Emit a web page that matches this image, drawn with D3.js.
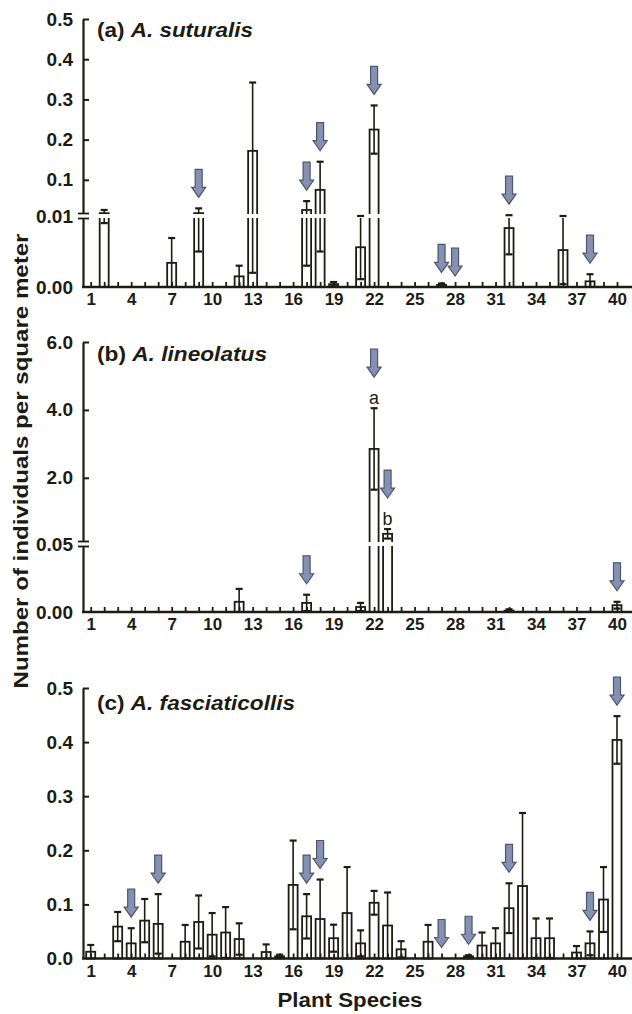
<!DOCTYPE html>
<html>
<head>
<meta charset="utf-8">
<script src="https://cdn.jsdelivr.net/npm/d3@7"></script>
<style>
  body { margin: 0; background: #fff; }
  svg { display: block; font-family: Arial, "Liberation Sans", sans-serif; }
</style>
</head>
<body>
<div id="chart-area"></div>
<script>
// Data
// ****
const species = [1,2,3,4,5,6,7,8,9,10,11,12,13,14,15,16,17,18,19,20,21,22,23,24,25,26,27,28,29,30,31,32,33,34,35,36,37,38,39,40]
const speciesLabels = [1,4,7,10,13,16,19,22,25,28,31,34,37,40]

// (a) A. suturalis
const meanA = [0,0.017,0,0,0,0,0.0034,0,0.017,0,0,0.0015,0.172,0,0,0,0.025,0.075,0.0004,0,0.0056,0.225,0,0,0,0,0.0003,0,0,0,0,0.0083,0,0,0,0.0052,0,0.0008,0,0]
const seA   = [0,0.008,0,0,0,0,0.0035,0,0.012,0,0,0.0015,0.17,0,0,0,0.022,0.07,0.0003,0,0.0045,0.06,0,0,0,0,0.0002,0,0,0,0,0.0037,0,0,0,0.0048,0,0.001,0,0]
const arrowsA = [9,17,18,22,27,28,32,38]
const ticksA = [0,0.01,0.1,0.2,0.3,0.4,0.5]
const tickLabelsA = ["0.00","0.01","0.1","0.2","0.3","0.4","0.5"]

// (b) A. lineolatus
const meanB = [0,0,0,0,0,0,0,0,0,0,0,0.0075,0,0,0,0,0.0067,0,0,0,0.0037,2.85,0.35,0,0,0,0,0,0,0,0,0.001,0,0,0,0,0,0,0,0.005]
const seB   = [0,0,0,0,0,0,0,0,0,0,0,0.0095,0,0,0,0,0.006,0,0,0,0.003,1.2,0.14,0,0,0,0,0,0,0,0,0.001,0,0,0,0,0,0,0,0.0025]
const arrowsB = [17,22,23,40]
const letterSpeciesB = [22,23]
const letterTextB = ["a","b"]
const ticksB = [0,0.05,2,4,6]
const tickLabelsB = ["0.00","0.05","2.0","4.0","6.0"]

// (c) A. fasciaticollis
const meanC = [0.0125,0,0.059,0.028,0.07,0.064,0,0.031,0.0675,0.044,0.048,0.036,0,0.012,0.004,0.136,0.078,0.073,0.0375,0.084,0.028,0.103,0.061,0.017,0,0.031,0,0,0.004,0.024,0.028,0.093,0.134,0.0375,0.0375,0,0.011,0.028,0.109,0.404]
const seC   = [0.0125,0,0.027,0.028,0.04,0.055,0,0.031,0.049,0.04,0.047,0.029,0,0.014,0.003,0.082,0.041,0.073,0.025,0.085,0.024,0.022,0.061,0.015,0,0.031,0,0,0.002,0.024,0.028,0.046,0.135,0.0365,0.0365,0,0.012,0.022,0.06,0.044]
const arrowsC = [4,6,17,18,27,29,32,38,40]
const ticksC = [0,0.1,0.2,0.3,0.4,0.5]
const tickLabelsC = ["0.0","0.1","0.2","0.3","0.4","0.5"]

// Config
// ******
const width = 632, height = 1014
const axisX = 83, rightEdge = 632
const ink = "#1c1c14"
const barW = 9, capW = 7

const svg = d3.select("#chart-area")
  .append("svg")
    .attr("width", width)
    .attr("height", height)

const x = d3.scaleLinear().domain([1, 40]).range([90.7, 617])

const panels = [
  {tag: "(a) ", name: "A. suturalis", titleY: 37, titleLen: 156,
   mean: meanA, se: seA, arrows: arrowsA, ticks: ticksA, labels: tickLabelsA,
   y: d3.scaleLinear().domain([0, 0.01, 0.5]).range([287, 216, 19]), brk: 0.01},
  {tag: "(b) ", name: "A. lineolatus", titleY: 361, titleLen: 170,
   mean: meanB, se: seB, arrows: arrowsB, ticks: ticksB, labels: tickLabelsB,
   y: d3.scaleLinear().domain([0, 0.05, 6]).range([612, 544, 342]), brk: 0.05,
   letters: letterSpeciesB, letterText: letterTextB},
  {tag: "(c) ", name: "A. fasciaticollis", titleY: 710, titleLen: 198,
   mean: meanC, se: seC, arrows: arrowsC, ticks: ticksC, labels: tickLabelsC,
   y: d3.scaleLinear().domain([0, 0.5]).range([958.5, 688]), brk: null}
]

panels.forEach(drawPanel)

// Y Label
// *******
svg.append("text")
  .attr("transform", "translate(28, 461) rotate(-90)")
  .attr("text-anchor", "middle")
  .attr("font-size", "20px")
  .attr("font-weight", "bold")
  .attr("fill", ink)
  .attr("textLength", 455)
  .attr("lengthAdjust", "spacingAndGlyphs")
  .text("Number of individuals per square meter")

// X Label
// *******
svg.append("text")
  .attr("x", 350)
  .attr("y", 1007)
  .attr("text-anchor", "middle")
  .attr("font-size", "20px")
  .attr("font-weight", "bold")
  .attr("fill", ink)
  .attr("textLength", 145)
  .attr("lengthAdjust", "spacingAndGlyphs")
  .text("Plant Species")

// Draw One Panel
// **************
function drawPanel(p) {
  const y = p.y
  const base = y(0)
  const g = svg.append("g")
  const data = species.map((s, i) => ({s: s, m: p.mean[i], e: p.se[i]}))
  const bars = data.filter(d => d.m > 0)

  // Bars
  g.selectAll("rect.bar").data(bars).enter()
    .append("rect")
      .attr("class", "bar")
      .attr("x", d => x(d.s) - barW / 2)
      .attr("y", d => y(d.m))
      .attr("width", barW)
      .attr("height", d => base - y(d.m))
      .attr("fill", "#fff")
      .attr("stroke", ink)
      .attr("stroke-width", 1.8)

  // Error whiskers (lower part runs inside the bar)
  g.selectAll("line.whisker").data(bars).enter()
    .append("line")
      .attr("x1", d => x(d.s)).attr("x2", d => x(d.s))
      .attr("y1", d => y(Math.max(d.m - d.e, 0)))
      .attr("y2", d => y(d.m + d.e))
      .attr("stroke", ink)
      .attr("stroke-width", 1.6)

  // Break gap
  if (p.brk !== null) {
    g.append("rect")
      .attr("x", axisX - 6)
      .attr("y", y(p.brk) - 2)
      .attr("width", rightEdge - axisX + 6)
      .attr("height", 4)
      .attr("fill", "#fff")
  }

  // Caps
  const caps = []
  bars.forEach(d => {
    caps.push({s: d.s, v: d.m + d.e})
    if (d.m - d.e > 0) caps.push({s: d.s, v: d.m - d.e})
  })
  g.selectAll("line.cap").data(caps).enter()
    .append("line")
      .attr("x1", d => x(d.s) - capW / 2)
      .attr("x2", d => x(d.s) + capW / 2)
      .attr("y1", d => y(d.v)).attr("y2", d => y(d.v))
      .attr("stroke", ink)
      .attr("stroke-width", 2.2)

  // Left Axis
  const leftAxis = d3.axisLeft(y)
    .tickValues(p.ticks)
    .tickFormat((d, i) => p.labels[i])
    .tickSizeInner(-6)
    .tickSizeOuter(0)
    .tickPadding(10)
  const ga = g.append("g")
    .attr("transform", "translate(" + axisX + ",0)")
    .call(leftAxis)
  ga.select(".domain").attr("stroke", ink).attr("stroke-width", 2.2)
  ga.selectAll(".tick line").attr("stroke", ink).attr("stroke-width", 2)
    .filter(d => d === 0 || d === p.brk).remove()
  ga.selectAll("text")
    .attr("font-size", "19px")
    .attr("font-weight", "bold")
    .attr("font-family", "Arial, 'Liberation Sans', sans-serif")
    .attr("fill", ink)

  // Axis break marks
  if (p.brk !== null) {
    const yb = y(p.brk)
    ga.append("rect")
      .attr("x", -3).attr("y", yb - 2)
      .attr("width", 6).attr("height", 4)
      .attr("fill", "#fff")
    ;[-2.5, 2.5].forEach(off => {
      ga.append("line")
        .attr("x1", -5).attr("x2", 6)
        .attr("y1", yb + off).attr("y2", yb + off)
        .attr("stroke", ink).attr("stroke-width", 1.8)
    })
  }

  // Bottom Axis
  const bottomAxis = d3.axisBottom(x)
    .tickValues(species)
    .tickFormat(d => speciesLabels.includes(d) ? d : "")
    .tickSizeInner(-5)
    .tickSizeOuter(0)
    .tickPadding(6)
  const gb = g.append("g")
    .attr("transform", "translate(0," + base + ")")
    .call(bottomAxis)
  gb.select(".domain").remove()
  gb.selectAll(".tick line").attr("stroke", ink).attr("stroke-width", 1.8)
  gb.selectAll("text")
    .attr("font-size", "17px")
    .attr("font-weight", "bold")
    .attr("font-family", "Arial, 'Liberation Sans', sans-serif")
    .attr("fill", ink)
  gb.append("line")
    .attr("x1", axisX - 1).attr("x2", rightEdge)
    .attr("y1", 0).attr("y2", 0)
    .attr("stroke", ink)
    .attr("stroke-width", 2.4)

  // Letters
  const errTop = s => y(p.mean[s - 1] + p.se[s - 1])
  const letterGap = {}
  if (p.letters) {
    p.letters.forEach((s, i) => {
      letterGap[s] = 20
      g.append("text")
        .attr("x", x(s))
        .attr("y", errTop(s) - 4)
        .attr("text-anchor", "middle")
        .attr("font-size", "18px")
        .attr("fill", ink)
        .text(p.letterText[i])
    })
  }

  // Arrows
  const arrow = "M-3.5,0 L3.5,0 L3.5,18 L7,18 L0,28 L-7,18 L-3.5,18 Z"
  g.selectAll("path.arrow").data(p.arrows).enter()
    .append("path")
      .attr("class", "arrow")
      .attr("d", arrow)
      .attr("transform", s => "translate(" + x(s) + "," + (errTop(s) - 11 - (letterGap[s] || 0) - 28) + ")")
      .attr("fill", "#8591b3")
      .attr("stroke", "#4f566b")
      .attr("stroke-width", 1.2)

  // Title
  const title = g.append("text")
    .attr("x", 97)
    .attr("y", p.titleY)
    .attr("font-size", "20px")
    .attr("font-weight", "bold")
    .attr("fill", ink)
    .attr("textLength", p.titleLen)
    .attr("lengthAdjust", "spacingAndGlyphs")
  title.append("tspan").text(p.tag)
  title.append("tspan").attr("font-style", "italic").text(p.name)
}
</script>
</body>
</html>
